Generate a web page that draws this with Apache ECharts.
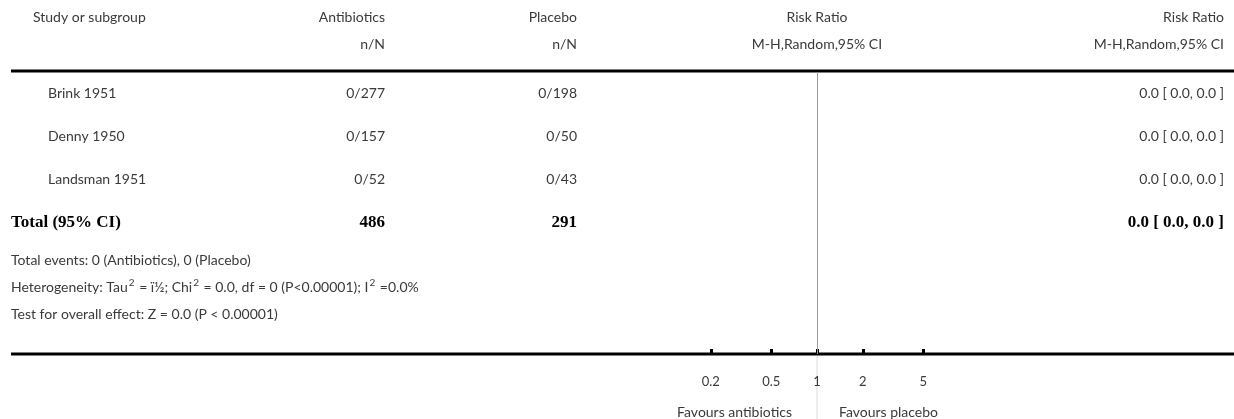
<!DOCTYPE html>
<html>
<head>
<meta charset="utf-8">
<script src="https://cdn.jsdelivr.net/npm/echarts@6/dist/echarts.min.js"></script>
<style>
  html, body { margin: 0; padding: 0; background: #ffffff; }
  #chart { width: 1234px; height: 419px; }
</style>
</head>
<body>
<div id="chart"></div>
<script>
// ---- data ----
const studies = ['Brink 1951', 'Denny 1950', 'Landsman 1951'];
const antibioticsEvents = [0, 0, 0];
const antibioticsTotal = [277, 157, 52];
const placeboEvents = [0, 0, 0];
const placeboTotal = [198, 50, 43];
const riskRatio = [0.0, 0.0, 0.0];
const ciLower = [0.0, 0.0, 0.0];
const ciUpper = [0.0, 0.0, 0.0];
const totalLabel = 'Total (95% CI)';
const totalAntibiotics = 486;
const totalPlacebo = 291;
const totalRiskRatio = [0.0, 0.0, 0.0];
const footnotes = [
  'Total events: 0 (Antibiotics), 0 (Placebo)',
  'Heterogeneity: Tau\u00b2 = \u00ef\u00bd; Chi\u00b2 = 0.0, df = 0 (P<0.00001); I\u00b2 =0.0%',
  'Test for overall effect: Z = 0.0 (P < 0.00001)'
];
const tickValues = [0.2, 0.5, 1, 2, 5];
const tickLabels = ['0.2', '0.5', '1', '2', '5'];
const favoursLeft = 'Favours antibiotics';
const favoursRight = 'Favours placebo';

// ---- styles ----
const SANS = 'Lato, "Open Sans", "Noto Sans", sans-serif';
const SERIF = '"Liberation Serif", "DejaVu Serif", serif';
const INK = '#3a3a3a';
const SIZE = 14;
const WEIGHT = 'normal';

// the forest axis works in log10 units
const lg = v => Math.log10(v);
const tickLogs = tickValues.map(lg);

const chart = echarts.init(document.getElementById('chart'), null, { renderer: 'canvas' });

const rowNames = studies.concat([totalLabel]);

chart.setOption({
  animation: false,
  grid: [
    { left: 513, width: 608, top: 72, bottom: 65 },   // forest plot
    { left: 11, right: 12, top: 72, height: 172 }      // table rows
  ],
  xAxis: [
    {
      type: 'value', gridIndex: 0, min: -2, max: 2,
      axisLine: { show: false },
      splitLine: { show: false },
      axisTick: {
        show: true, inside: true, length: 5, customValues: tickLogs,
        lineStyle: { color: '#000', width: 3 }
      },
      axisLabel: {
        show: true, customValues: tickLogs, margin: 21,
        fontFamily: SANS, fontSize: 13, fontWeight: WEIGHT, color: INK,
        formatter: v => {
          const i = tickLogs.findIndex(t => Math.abs(t - v) < 1e-6);
          return i >= 0 ? tickLabels[i] : '';
        }
      }
    },
    { type: 'value', gridIndex: 1, show: false }
  ],
  yAxis: [
    { type: 'value', gridIndex: 0, show: false, min: 0, max: 1 },
    {
      type: 'category', gridIndex: 1, inverse: true, data: rowNames,
      axisLine: { show: false }, axisTick: { show: false }, splitLine: { show: false },
      axisLabel: {
        align: 'left', margin: 0,
        formatter: (v) => v === totalLabel ? '{t|' + v + '}' : '{s|' + v + '}',
        rich: {
          s: { fontFamily: SANS, fontSize: SIZE, fontWeight: WEIGHT, color: INK, padding: [0, 0, 0, 37] },
          t: { fontFamily: SERIF, fontSize: 17, fontWeight: 'bold', color: '#000' }
        }
      }
    }
  ],
  series: [
    {
      type: 'scatter', xAxisIndex: 0, yAxisIndex: 0, data: [],
      markLine: {
        silent: true, symbol: 'none', label: { show: false },
        lineStyle: { color: '#9a9a9a', width: 1, type: 'solid' },
        data: [{ xAxis: lg(1) }]
      }
    },
    { type: 'scatter', xAxisIndex: 1, yAxisIndex: 1, data: [] }
  ]
});

// ---- table text, laid out on the row axis ----
const colAntibiotics = 385;
const colPlacebo = 577;
const colRight = 1224;
const xOne = chart.convertToPixel({ xAxisIndex: 0 }, lg(1));
const yBottom = 354;

const fmt = v => v.toFixed(1);
const ciText = (r, lo, hi) => fmt(r) + ' [ ' + fmt(lo) + ', ' + fmt(hi) + ' ]';

function txt(text, x, y, align, opts) {
  opts = opts || {};
  return {
    type: 'text', silent: true, x: x, y: y,
    style: {
      text: text, textAlign: align, textVerticalAlign: 'middle',
      fontFamily: opts.font || SANS, fontSize: opts.size || SIZE,
      fontWeight: opts.weight || WEIGHT, fill: opts.color || INK
    }
  };
}

// footnote line with raised, smaller superscript digits
function noteText(text, x, y) {
  const rich = text.replace(/\u00b2/g, '{sup|2}').replace(/([^}|]+)(?=\{|$)/g, '{n|$1}');
  return {
    type: 'text', silent: true, x: x, y: y,
    style: {
      text: rich, textAlign: 'left', textVerticalAlign: 'middle',
      rich: {
        n: { fontFamily: SANS, fontSize: SIZE, fill: INK, lineHeight: 18, verticalAlign: 'middle' },
        sup: { fontFamily: SANS, fontSize: 10, fill: INK, lineHeight: 18, verticalAlign: 'top', padding: [0, 1, 0, 1] }
      }
    }
  };
}

const g = [];
// rules
g.push({ type: 'line', silent: true, shape: { x1: 11, y1: 71, x2: 1234, y2: 71 }, style: { stroke: '#000', lineWidth: 3 } });
g.push({ type: 'line', silent: true, shape: { x1: 11, y1: yBottom, x2: 1234, y2: yBottom }, style: { stroke: '#000', lineWidth: 3 } });
// null line continues below the axis
g.push({ type: 'line', silent: true, shape: { x1: xOne, y1: yBottom + 2, x2: xOne, y2: 419 }, style: { stroke: '#dcdcdc', lineWidth: 1 } });

// header
g.push(txt('Study or subgroup', 33, 17, 'left'));
g.push(txt('Antibiotics', colAntibiotics, 17, 'right'));
g.push(txt('n/N', colAntibiotics, 44, 'right'));
g.push(txt('Placebo', colPlacebo, 17, 'right'));
g.push(txt('n/N', colPlacebo, 44, 'right'));
g.push(txt('Risk Ratio', xOne, 17, 'center'));
g.push(txt('M-H,Random,95% CI', xOne, 44, 'center'));
g.push(txt('Risk Ratio', colRight, 17, 'right'));
g.push(txt('M-H,Random,95% CI', colRight, 44, 'right'));

// study rows
studies.forEach((s, i) => {
  const y = chart.convertToPixel({ yAxisIndex: 1 }, i);
  g.push(txt(antibioticsEvents[i] + '/' + antibioticsTotal[i], colAntibiotics, y, 'right'));
  g.push(txt(placeboEvents[i] + '/' + placeboTotal[i], colPlacebo, y, 'right'));
  g.push(txt(ciText(riskRatio[i], ciLower[i], ciUpper[i]), colRight, y, 'right'));
});

// total row
const yTotal = chart.convertToPixel({ yAxisIndex: 1 }, studies.length);
const bold = { font: SERIF, size: 17, weight: 'bold', color: '#000' };
g.push(txt(String(totalAntibiotics), colAntibiotics, yTotal, 'right', bold));
g.push(txt(String(totalPlacebo), colPlacebo, yTotal, 'right', bold));
g.push(txt(ciText(totalRiskRatio[0], totalRiskRatio[1], totalRiskRatio[2]), colRight, yTotal, 'right', bold));

// footnotes
footnotes.forEach((f, i) => g.push(noteText(f, 11, 260 + i * 27)));

// favours labels
g.push(txt(favoursLeft, xOne - 25, 412, 'right'));
g.push(txt(favoursRight, xOne + 22, 412, 'left'));

chart.setOption({ graphic: g });
</script>
</body>
</html>
